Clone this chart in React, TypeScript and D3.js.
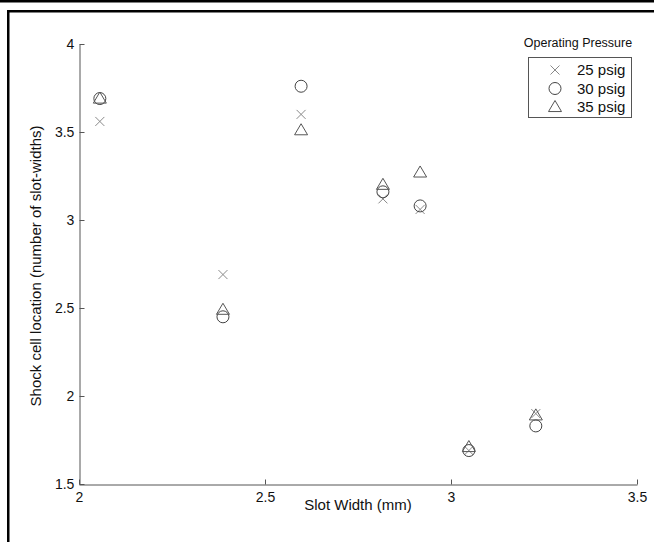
import React, { useRef, useEffect } from "react";
import * as d3 from "d3";

const slotWidths = [2.056, 2.387, 2.597, 2.817, 2.917, 3.048, 3.228];
const psig25 = [3.56, 2.69, 3.6, 3.12, 3.06, 1.69, 1.9];
const psig30 = [3.69, 2.45, 3.76, 3.16, 3.08, 1.69, 1.83];
const psig35 = [3.69, 2.49, 3.51, 3.2, 3.27, 1.71, 1.89];
const seriesNames = ["25 psig", "30 psig", "35 psig"];
const xTicks = [2, 2.5, 3, 3.5];
const yTicks = [1.5, 2, 2.5, 3, 3.5, 4];

const font = "Liberation Sans, Arial, sans-serif";

function drawMarker(g: any, kind: number, cx: number, cy: number) {
    if (kind === 0) {
        const s = 4.5;
        g.append("path")
            .attr("d", `M${cx - s},${cy - s}L${cx + s},${cy + s}M${cx - s},${cy + s}L${cx + s},${cy - s}`)
            .attr("stroke", "#8a8a8a")
            .attr("fill", "none");
    } else if (kind === 1) {
        g.append("circle")
            .attr("cx", cx).attr("cy", cy).attr("r", 6)
            .attr("stroke", "#444").attr("fill", "none");
    } else {
        const s = 6.5;
        g.append("path")
            .attr("d", `M${cx},${cy - s}L${cx + s},${cy + s * 0.7}L${cx - s},${cy + s * 0.7}Z`)
            .attr("stroke", "#555")
            .attr("fill", "none");
    }
}

function Chart() {
    const svgRef = useRef<SVGSVGElement>(null);

    useEffect(() => {
        const svg = d3.select(svgRef.current);
        svg.selectAll("*").remove();

        // frame
        svg.append("rect").attr("x", 0).attr("y", 0).attr("width", 654).attr("height", 2.5).attr("fill", "#000");
        svg.append("rect").attr("x", 7).attr("y", 10).attr("width", 647).attr("height", 2.5).attr("fill", "#000");
        svg.append("rect").attr("x", 7).attr("y", 10).attr("width", 2.5).attr("height", 532).attr("fill", "#000");

        const x = d3.scaleLinear().domain([2, 3.5]).range([79, 637]);
        const y = d3.scaleLinear().domain([1.5, 4]).range([484, 44]);

        const xAxis = d3.axisBottom(x).tickValues(xTicks).tickSizeInner(-5).tickSizeOuter(0).tickPadding(10)
            .tickFormat((d: any) => String(d));
        const gx = svg.append("g").attr("transform", "translate(0,484.5)").call(xAxis);

        const yAxis = d3.axisLeft(y).tickValues(yTicks).tickSizeInner(-5).tickSizeOuter(0).tickPadding(10)
            .tickFormat((d: any) => String(d));
        const gy = svg.append("g").attr("transform", "translate(79.5,0)").call(yAxis);

        [gx, gy].forEach(g => {
            g.selectAll("path").attr("stroke", "#555");
            g.selectAll("line").attr("stroke", "#555");
            g.selectAll("text").attr("fill", "#111").style("font-family", font).style("font-size", "14px");
        });
        gx.selectAll("text").attr("dy", "0.55em");
        gy.selectAll("text").attr("dx", "0.35em");

        svg.append("text")
            .attr("x", 358).attr("y", 510)
            .attr("text-anchor", "middle")
            .style("font-family", font).style("font-size", "15px")
            .attr("fill", "#111")
            .text("Slot Width (mm)");

        svg.append("text")
            .attr("transform", "translate(41,266) rotate(-90)")
            .attr("text-anchor", "middle")
            .style("font-family", font).style("font-size", "15px")
            .attr("fill", "#111")
            .text("Shock cell location (number of slot-widths)");

        const series = [psig25, psig30, psig35];
        const pts = svg.append("g");
        series.forEach((vals, k) => {
            vals.forEach((v, i) => drawMarker(pts, k, x(slotWidths[i]), y(v)));
        });

        // legend
        svg.append("text")
            .attr("x", 578).attr("y", 47)
            .attr("text-anchor", "middle")
            .style("font-family", font).style("font-size", "12.5px")
            .attr("fill", "#111")
            .text("Operating Pressure");
        const lg = svg.append("g");
        lg.append("rect")
            .attr("x", 528.5).attr("y", 57.5).attr("width", 103).attr("height", 60)
            .attr("fill", "#fff").attr("stroke", "#555");
        seriesNames.forEach((name, k) => {
            const cy = 70 + k * 18.5;
            drawMarker(lg, k, 555, cy);
            lg.append("text")
                .attr("x", 577).attr("y", cy + 5)
                .style("font-family", font).style("font-size", "15px")
                .attr("fill", "#111")
                .text(name);
        });
    }, []);

    return <svg ref={svgRef} width={654} height={542} style={{ display: "block" }} />;
}

export default function App() {
    return (
        <div style={{ position: "absolute", left: 0, top: 0, background: "#fff" }}>
            <Chart />
        </div>
    );
}
